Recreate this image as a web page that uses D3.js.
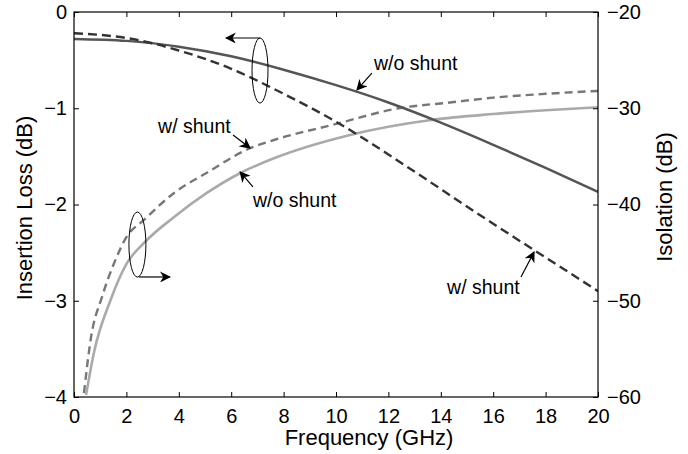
<!DOCTYPE html>
<html>
<head>
<meta charset="utf-8">
<script src="https://cdn.jsdelivr.net/npm/d3@7"></script>
<style>
  body { margin: 0; background: #fff; }
  text { font-family: "Liberation Sans", Arial, sans-serif; fill: #000; }
</style>
</head>
<body>
<div id="chart"></div>
<script>
// frequency samples (GHz) and curves
const freqIL = [0, 2, 4, 6, 8, 10, 12, 14, 16, 18, 20];
const ilNoShunt = [-0.28, -0.30, -0.36, -0.46, -0.60, -0.76, -0.94, -1.15, -1.38, -1.62, -1.87];
const ilShunt = [-0.22, -0.27, -0.40, -0.59, -0.85, -1.14, -1.48, -1.84, -2.20, -2.55, -2.90];

const freqIsoShunt = [0.38, 0.65, 1.07, 1.53, 2.0, 2.67, 3.82, 5.07, 6.76, 7.63, 9.9, 12.4, 14.35, 16, 18, 20];
const isoShunt = [-59.6, -53.8, -49.6, -46.1, -43.4, -41.6, -38.8, -36.7, -34.1, -33.3, -31.7, -30.0, -29.4, -28.9, -28.5, -28.2];
const freqIsoNoShunt = [0.46, 0.76, 1.4, 2.02, 2.67, 3.82, 5.07, 6.37, 7.63, 10.5, 13.7, 16, 18, 20];
const isoNoShunt = [-59.8, -55.4, -49.9, -46.1, -44.0, -41.3, -38.8, -36.7, -35.2, -32.8, -31.2, -30.6, -30.2, -29.9];

const xTicks = [0, 2, 4, 6, 8, 10, 12, 14, 16, 18, 20];
const yLeftTicks = [0, -1, -2, -3, -4];
const yRightTicks = [-20, -30, -40, -50, -60];

// annotation labels and arrows, in frequency / insertion-loss units
const labels = [
  { text: 'w/o shunt', f: 11.45, v: -0.60 },
  { text: 'w/ shunt', f: 3.21, v: -1.257 },
  { text: 'w/o shunt', f: 6.83, v: -2.026 },
  { text: 'w/ shunt', f: 14.24, v: -2.93 }
];
const arrows = [
  { f1: 11.37, v1: -0.634, f2: 10.80, v2: -0.81 },
  { f1: 6.07, v1: -1.278, f2: 6.72, v2: -1.413 },
  { f1: 6.83, v1: -1.818, f2: 6.34, v2: -1.662 },
  { f1: 17.06, v1: -2.753, f2: 17.56, v2: -2.494 },
  { f1: 7.10, v1: -0.27, f2: 5.80, v2: -0.27 },
  { f1: 2.48, v1: -2.753, f2: 3.66, v2: -2.753 }
];
const ellipses = [
  { f: 7.10, v: -0.608, rf: 0.305, rv: 0.338 },
  { f: 2.42, v: -2.416, rf: 0.324, rv: 0.338 }
];

const margin = { top: 12, right: 90, bottom: 57, left: 74 };
const width = 688 - margin.left - margin.right;
const height = 454 - margin.top - margin.bottom;

const svg = d3.select('#chart')
  .append('svg')
  .attr('width', 688)
  .attr('height', 454);

svg.append('rect').attr('width', 688).attr('height', 454).attr('fill', '#fff');

svg.append('defs').append('marker')
  .attr('id', 'head')
  .attr('viewBox', '0 0 10 10')
  .attr('refX', 9)
  .attr('refY', 5)
  .attr('markerWidth', 11)
  .attr('markerHeight', 11)
  .attr('markerUnits', 'userSpaceOnUse')
  .attr('orient', 'auto')
  .append('path')
  .attr('d', 'M0,0 L10,5 L0,10 L3,5 Z')
  .attr('fill', '#000');

const g = svg.append('g')
  .attr('transform', `translate(${margin.left}, ${margin.top})`);

const x = d3.scaleLinear().domain([0, 20]).range([0, width]);
const yL = d3.scaleLinear().domain([-4, 0]).range([height, 0]);
const yR = d3.scaleLinear().domain([-60, -20]).range([height, 0]);

g.append('clipPath').attr('id', 'clip')
  .append('rect').attr('width', width).attr('height', height);

const plot = g.append('g').attr('clip-path', 'url(#clip)');

const lineL = d3.line().x(d => x(d[0])).y(d => yL(d[1])).curve(d3.curveNatural);
const lineR = d3.line().x(d => x(d[0])).y(d => yR(d[1])).curve(d3.curveMonotoneX);

const series = [
  { pts: d3.zip(freqIsoNoShunt, isoNoShunt), gen: lineR, color: '#aaaaaa', w: 2.6, dash: null },
  { pts: d3.zip(freqIsoShunt, isoShunt), gen: lineR, color: '#777777', w: 2.4, dash: '8,5' },
  { pts: d3.zip(freqIL, ilNoShunt), gen: lineL, color: '#555555', w: 2.5, dash: null },
  { pts: d3.zip(freqIL, ilShunt), gen: lineL, color: '#333333', w: 2.4, dash: '9,5' }
];

series.forEach(s => {
  plot.append('path')
    .attr('d', s.gen(s.pts))
    .attr('fill', 'none')
    .attr('stroke', s.color)
    .attr('stroke-width', s.w)
    .attr('stroke-dasharray', s.dash);
});

// axes with inward ticks
const fmt = d3.format('d');
const styleAxis = sel => {
  sel.select('.domain').remove();
  sel.selectAll('.tick line').attr('stroke', '#000');
  sel.selectAll('.tick text').attr('font-size', '20px').attr('font-family', '"Liberation Sans", Arial, sans-serif');
};

g.append('g')
  .attr('transform', `translate(0, ${height})`)
  .call(d3.axisBottom(x).tickValues(xTicks).tickFormat(fmt).tickSizeInner(-5).tickPadding(12))
  .call(styleAxis);

g.append('g')
  .call(d3.axisTop(x).tickValues(xTicks).tickFormat('').tickSizeInner(-5))
  .call(styleAxis);

g.append('g')
  .call(d3.axisLeft(yL).tickValues(yLeftTicks).tickFormat(fmt).tickSizeInner(-5).tickPadding(7))
  .call(styleAxis);

g.append('g')
  .attr('transform', `translate(${width}, 0)`)
  .call(d3.axisRight(yR).tickValues(yRightTicks).tickFormat(fmt).tickSizeInner(-5).tickPadding(9))
  .call(styleAxis);

g.append('rect')
  .attr('width', width)
  .attr('height', height)
  .attr('fill', 'none')
  .attr('stroke', '#000')
  .attr('stroke-width', 1.2);

// annotations
ellipses.forEach(e => {
  g.append('ellipse')
    .attr('cx', x(e.f))
    .attr('cy', yL(e.v))
    .attr('rx', x(e.rf) - x(0))
    .attr('ry', yL(-e.rv) - yL(0))
    .attr('fill', 'none')
    .attr('stroke', '#000')
    .attr('stroke-width', 1);
});

arrows.forEach(a => {
  g.append('line')
    .attr('x1', x(a.f1)).attr('y1', yL(a.v1))
    .attr('x2', x(a.f2)).attr('y2', yL(a.v2))
    .attr('stroke', '#000')
    .attr('stroke-width', 1.2)
    .attr('marker-end', 'url(#head)');
});

labels.forEach(l => {
  g.append('text')
    .attr('x', x(l.f))
    .attr('y', yL(l.v))
    .attr('font-size', '19.5px')
    .text(l.text);
});

// axis titles
svg.append('text')
  .attr('x', 369)
  .attr('y', 445)
  .attr('text-anchor', 'middle')
  .attr('font-size', '22px')
  .text('Frequency (GHz)');

svg.append('text')
  .attr('transform', `translate(32, 208) rotate(-90)`)
  .attr('text-anchor', 'middle')
  .attr('font-size', '22px')
  .text('Insertion Loss (dB)');

svg.append('text')
  .attr('transform', `translate(672, 197) rotate(-90)`)
  .attr('text-anchor', 'middle')
  .attr('font-size', '22px')
  .text('Isolation (dB)');
</script>
</body>
</html>
